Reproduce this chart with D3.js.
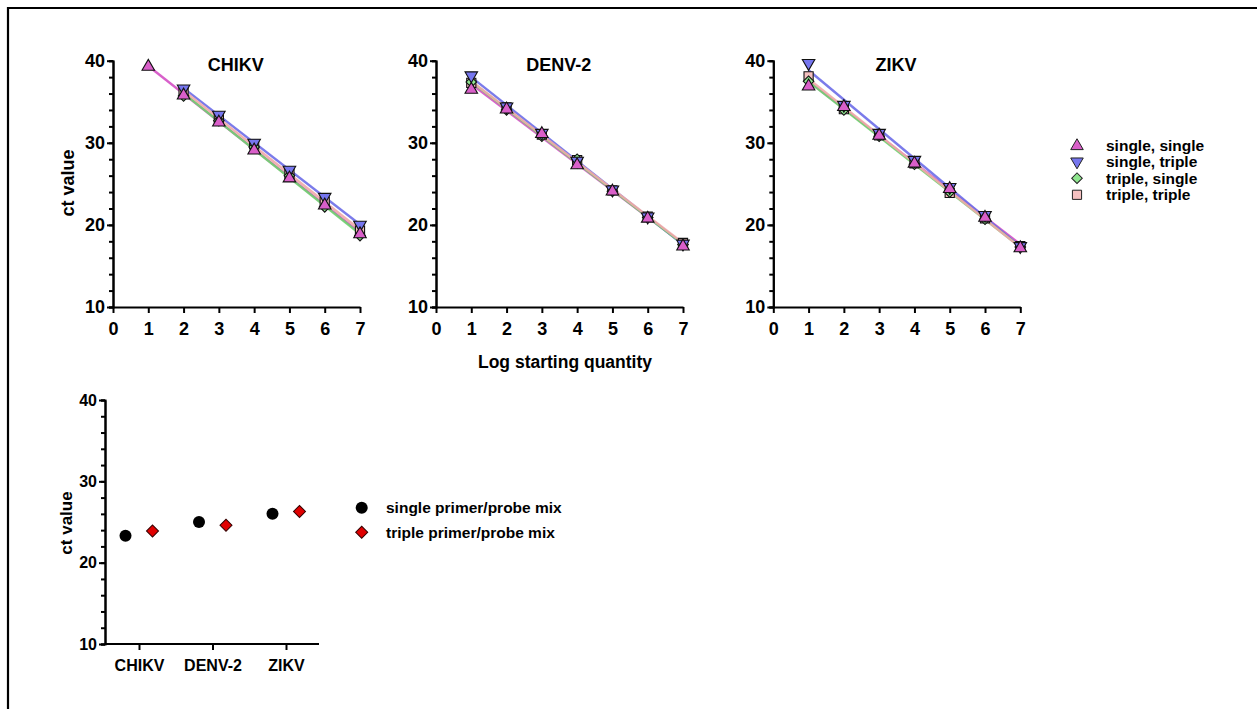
<!DOCTYPE html>
<html><head><meta charset="utf-8">
<script src="https://cdn.jsdelivr.net/npm/d3@7"></script>
<style>
body{margin:0;background:#fff;}
svg text{font-family:"Liberation Sans",Arial,sans-serif;font-weight:bold;fill:#000;}
</style></head>
<body><svg id="c" width="1257" height="709"></svg>
<script>
// ---------- DATA ----------
const logQty = [1, 2, 3, 4, 5, 6, 7];
const viruses = ["CHIKV", "DENV-2", "ZIKV"];
const seriesNames = ["single, single", "single, triple", "triple, single", "triple, triple"];
// ct values per virus, per series (null = not shown)
const chikvSS = [39.4, 35.9, 32.6, 29.2, 25.8, 22.5, 19.0];
const chikvST = [null, 36.6, 33.4, 30.0, 26.7, 23.4, 20.0];
const chikvTS = [null, 35.7, 32.7, 29.5, 26.0, 22.2, 18.7];
const chikvTT = [null, 36.2, 33.0, 29.8, 26.2, 22.8, 19.3];
const denvSS = [36.6, 34.2, 31.2, 27.4, 24.2, 20.9, 17.5];
const denvST = [38.2, 34.4, 31.2, 27.8, 24.3, 21.0, 17.7];
const denvTS = [37.4, 34.0, 30.8, 28.0, 24.1, 20.9, 17.6];
const denvTT = [37.3, 34.3, 31.0, 27.9, 24.2, 21.0, 17.8];
const zikvSS = [37.0, 34.5, 31.0, 27.6, 24.5, 21.0, 17.3];
const zikvST = [39.7, 34.6, 31.2, 27.9, 24.6, 21.2, 17.4];
const zikvTS = [37.5, 34.0, 30.8, 27.4, 24.0, 20.7, 17.3];
const zikvTT = [38.1, 34.1, 30.9, 27.5, 23.9, 20.8, 17.4];
const yTicks = [10, 20, 30, 40];
const xTicks = [0, 1, 2, 3, 4, 5, 6, 7];
// bottom panel
const mixNames = ["single primer/probe mix", "triple primer/probe mix"];
const singleMix = [23.3, 25.0, 26.0];
const tripleMix = [23.9, 24.6, 26.3];

const panelData = [
  [chikvSS, chikvST, chikvTS, chikvTT],
  [denvSS, denvST, denvTS, denvTT],
  [zikvSS, zikvST, zikvTS, zikvTT]
];

// ---------- STYLE ----------
const fills = ["#d95fc9", "#7676ee", "#8fe68f", "#f5c0c0"];
const lineCols = ["#d44fc4", "#6d6de8", "#6fd36f", "#f0a8a8"];
const svg = d3.select("#c");

// outer frame
svg.append("path").attr("d", "M8,710 L8,8 L1258,8").attr("fill", "none")
  .attr("stroke", "#000").attr("stroke-width", 2.2);

function symPath(i, scale) {
  scale = scale || 1;
  if (i === 0) return d3.symbol().type(d3.symbolTriangle).size(68 * scale)();
  if (i === 1) return d3.symbol().type(d3.symbolTriangle).size(68 * scale)();
  if (i === 2) return d3.symbol().type(d3.symbolSquare).size(56 * scale)();
  return d3.symbol().type(d3.symbolSquare).size(84 * scale)();
}
function symTransform(i, x, y) {
  if (i === 1) return `translate(${x},${y}) rotate(180)`;
  if (i === 2) return `translate(${x},${y}) rotate(45)`;
  if (i === 0) return `translate(${x},${y + 1})`;
  return `translate(${x},${y})`;
}

function styleAxis(g) {
  g.selectAll("path.domain").attr("stroke", "#000").attr("stroke-width", 2);
  g.selectAll(".tick line").attr("stroke", "#000").attr("stroke-width", 2);
  g.selectAll("text").style("font-family", '"Liberation Sans",Arial,sans-serif')
    .style("font-weight", "bold").attr("fill", "#000");
}

const origins = [113, 436, 773.3];
const top0 = 60.7, bot0 = 307, pw = 247;

panelData.forEach((series, p) => {
  const ox = origins[p];
  const x = d3.scaleLinear().domain([0, 7]).range([ox, ox + pw]);
  const y = d3.scaleLinear().domain([10, 40]).range([bot0, top0]);
  const g = svg.append("g");
  // minor ticks
  const ya = g.append("g").attr("transform", `translate(${ox},0)`)
    .call(d3.axisLeft(y).tickValues(d3.range(10, 41, 2)).tickSize(4).tickFormat(""));
  styleAxis(ya);
  const yb = g.append("g").attr("transform", `translate(${ox},0)`)
    .call(d3.axisLeft(y).tickValues(yTicks).tickSize(6).tickPadding(2).tickSizeOuter(0));
  styleAxis(yb);
  yb.selectAll("text").style("font-size", "18px");
  const xa = g.append("g").attr("transform", `translate(0,${bot0})`)
    .call(d3.axisBottom(x).tickValues(xTicks).tickFormat(d3.format("d"))
      .tickSize(6).tickPadding(9).tickSizeOuter(0));
  styleAxis(xa);
  xa.selectAll("text").style("font-size", "18px");

  // regression lines
  series.forEach((vals, si) => {
    const pts = logQty.map((q, k) => [q, vals[k]]).filter(d => d[1] != null);
    const n = pts.length, mx = d3.mean(pts, d => d[0]), my = d3.mean(pts, d => d[1]);
    const slope = d3.sum(pts, d => (d[0] - mx) * (d[1] - my)) / d3.sum(pts, d => (d[0] - mx) ** 2);
    const b = my - slope * mx;
    const x0 = pts[0][0], x1 = pts[n - 1][0];
    g.append("line").attr("x1", x(x0)).attr("y1", y(slope * x0 + b))
      .attr("x2", x(x1)).attr("y2", y(slope * x1 + b))
      .attr("stroke", lineCols[si]).attr("stroke-width", 2.4).attr("stroke-opacity", 0.9);
  });
  // markers (draw in reverse so single,single on top)
  [3, 2, 1, 0].forEach(si => {
    const vals = series[si];
    logQty.forEach((q, k) => {
      if (vals[k] == null) return;
      g.append("path").attr("d", symPath(si)).attr("transform", symTransform(si, x(q), y(vals[k])))
        .attr("fill", fills[si]).attr("stroke", "#111").attr("stroke-width", 1.1);
    });
  });
  // title
  g.append("text").attr("x", x(3.48)).attr("y", 71).attr("text-anchor", "middle")
    .style("font-size", "18px").text(viruses[p]);
});

// top y label
svg.append("text").attr("transform", "translate(74,183) rotate(-90)").attr("text-anchor", "middle")
  .style("font-size", "18px").text("ct value");
// x label
svg.append("text").attr("x", 565).attr("y", 368).attr("text-anchor", "middle")
  .style("font-size", "17.5px").text("Log starting quantity");

// top legend
seriesNames.forEach((nm, i) => {
  const ly = 145 + i * 16.6;
  svg.append("path").attr("d", symPath(i, 1.0)).attr("transform", symTransform(i, 1077, ly))
    .attr("fill", fills[i]).attr("stroke", "#222").attr("stroke-width", 1);
  svg.append("text").attr("x", 1106).attr("y", ly + 5.5).style("font-size", "15.5px").text(nm);
});

// ---------- bottom panel ----------
const bx = d3.scalePoint().domain(viruses).range([139, 286]);
const by = d3.scaleLinear().domain([10, 40]).range([644, 400]);
const bg = svg.append("g");
const bya = bg.append("g").attr("transform", "translate(105,0)")
  .call(d3.axisLeft(by).tickValues(d3.range(10, 41, 2)).tickSize(4).tickFormat(""));
styleAxis(bya);
const byb = bg.append("g").attr("transform", "translate(105,0)")
  .call(d3.axisLeft(by).tickValues(yTicks).tickSize(6).tickPadding(2).tickSizeOuter(0));
styleAxis(byb);
byb.selectAll("text").style("font-size", "16px");
const bxa = bg.append("g").attr("transform", "translate(0,644)")
  .call(d3.axisBottom(bx).tickSize(6).tickPadding(10).tickSizeOuter(0));
bxa.select("path.domain").attr("d", "M105,0H319");
styleAxis(bxa);
bxa.selectAll("text").style("font-size", "16px");

singleMix.forEach((v, k) => {
  bg.append("circle").attr("cx", bx(viruses[k]) - 13.5).attr("cy", by(v)).attr("r", 6).attr("fill", "#000");
});
tripleMix.forEach((v, k) => {
  bg.append("path").attr("d", d3.symbol().type(d3.symbolSquare).size(72)())
    .attr("transform", `translate(${bx(viruses[k]) + 13.5},${by(v)}) rotate(45)`)
    .attr("fill", "#e00000").attr("stroke", "#300").attr("stroke-width", 1);
});
svg.append("text").attr("transform", "translate(72,523) rotate(-90)").attr("text-anchor", "middle")
  .style("font-size", "17px").text("ct value");

// bottom legend
mixNames.forEach((nm, i) => {
  const ly = 507.7 + i * 24.6;
  if (i === 0) svg.append("circle").attr("cx", 361.7).attr("cy", ly).attr("r", 6).attr("fill", "#000");
  else svg.append("path").attr("d", d3.symbol().type(d3.symbolSquare).size(72)())
    .attr("transform", `translate(361.7,${ly}) rotate(45)`)
    .attr("fill", "#e00000").attr("stroke", "#300").attr("stroke-width", 1);
  svg.append("text").attr("x", 386).attr("y", ly + 5.5).style("font-size", "15.5px").text(nm);
});
</script></body></html>
